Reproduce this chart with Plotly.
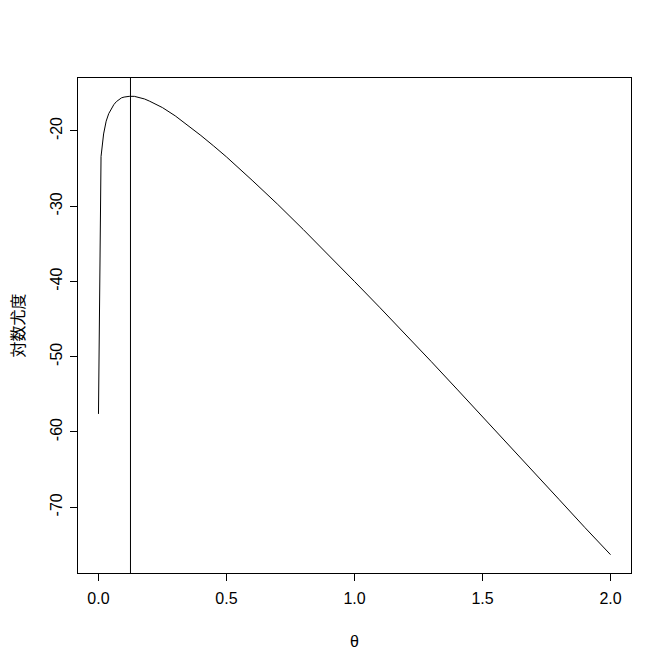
import plotly.graph_objects as go

# θ grid and log-likelihood values
theta = [0.0, 0.01, 0.02, 0.03, 0.04, 0.05, 0.06, 0.07, 0.08, 0.09, 0.10,
         0.12, 0.14, 0.16, 0.18, 0.20, 0.25, 0.30, 0.35, 0.40, 0.45, 0.50,
         0.60, 0.70, 0.80, 0.90, 1.00, 1.10, 1.20, 1.30, 1.40, 1.50,
         1.60, 1.70, 1.80, 1.90, 2.00]
loglik = [-57.6, -23.4, -20.4, -18.7, -17.7, -17.0, -16.5, -16.1, -15.8, -15.6, -15.5,
          -15.4, -15.4, -15.55, -15.75, -16.05, -16.9, -18.0, -19.25, -20.6, -22.0, -23.45,
          -26.55, -29.75, -33.1, -36.5, -40.0, -43.5, -47.05, -50.65, -54.3, -57.95,
          -61.6, -65.3, -69.0, -72.7, -76.3]
theta_hat = 0.125

x_ticks = [0.0, 0.5, 1.0, 1.5, 2.0]
x_ticklabels = ["0.0", "0.5", "1.0", "1.5", "2.0"]
y_ticks = [-70, -60, -50, -40, -30, -20]
y_ticklabels = ["-70", "-60", "-50", "-40", "-30", "-20"]


def r_range(v):
    lo, hi = min(v), max(v)
    pad = 0.04 * (hi - lo)
    return [lo - pad, hi + pad]


fig = go.Figure()
fig.add_trace(go.Scatter(x=theta, y=loglik, mode="lines",
                         line=dict(color="black", width=1), showlegend=False))
fig.add_shape(type="line", xref="x", yref="paper", x0=theta_hat, x1=theta_hat,
              y0=0, y1=1, line=dict(color="black", width=1))

font = dict(family="Liberation Sans, Arial, sans-serif", size=16, color="black")

fig.update_layout(
    width=672, height=671,
    margin=dict(l=78, r=41, t=78, b=98),
    paper_bgcolor="white", plot_bgcolor="white",
    font=font,
    xaxis=dict(range=r_range(theta), tickvals=x_ticks, ticktext=x_ticklabels,
               ticks="outside", ticklen=7, tickwidth=1, tickcolor="black",
               ticklabelstandoff=4,
               showline=True, linecolor="black", linewidth=1, mirror=True,
               showgrid=False, zeroline=False, tickfont=font),
    yaxis=dict(range=r_range(loglik), tickvals=y_ticks, ticktext=y_ticklabels,
               ticks="outside", ticklen=7, tickwidth=1, tickcolor="black",
               tickangle=-90, ticklabelstandoff=2,
               showline=True, linecolor="black", linewidth=1, mirror=True,
               showgrid=False, zeroline=False, tickfont=font),
    annotations=[
        dict(text="θ", xref="paper", yref="paper", x=0.5, y=0, yshift=-68,
             showarrow=False, xanchor="center", yanchor="middle",
             font=dict(family="Liberation Sans, Arial, sans-serif", size=16)),
        dict(text="対数尤度", xref="paper", yref="paper", x=0, y=0.5, xshift=-62,
             showarrow=False, xanchor="center", yanchor="middle", textangle=-90,
             font=dict(family="Noto Sans CJK JP, sans-serif", size=16)),
    ],
)

fig.write_html("out.html",
               config={"displayModeBar": False},
               post_script="document.body.style.margin='0';document.body.style.overflow='hidden';")
